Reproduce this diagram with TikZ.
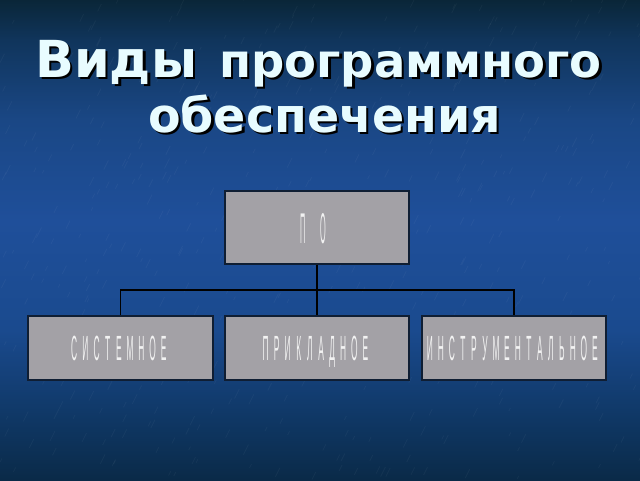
\documentclass[tikz,border=0pt]{standalone}
\usepackage{fontspec}
\usepackage{graphicx}
\newfontfamily\titlefont{DejaVu Sans}
\newfontfamily\boxfont{Liberation Sans}
\definecolor{bgA}{HTML}{0A2638}
\definecolor{bgB}{HTML}{10355C}
\definecolor{bgC}{HTML}{1A4785}
\definecolor{bgD}{HTML}{1F4F9A}
\definecolor{bgE}{HTML}{1A4A8E}
\definecolor{bgF}{HTML}{0F3764}
\definecolor{bgG}{HTML}{0A2A48}
\definecolor{boxfill}{HTML}{A3A1A6}
\definecolor{boxline}{HTML}{0F1E33}
\definecolor{titlecol}{HTML}{E8FCFF}
\definecolor{lettercol}{HTML}{F2F2F2}
\pgfdeclareverticalshading{slidebg}{100bp}{%
  color(0bp)=(bgG); color(25bp)=(bgG); color(31.25bp)=(bgF); color(40.6bp)=(bgE);
  color(52bp)=(bgD); color(62.5bp)=(bgC); color(70.8bp)=(bgB); color(75bp)=(bgA); color(100bp)=(bgA)}
\newcommand\spacedletters[3]{\foreach \ch in {#3}{\makebox[#1]{\scalebox{#2}[1]{\ch}}}}
\newcommand\shadowtext[1]{\makebox[0pt][l]{\hspace{2.5pt}\raisebox{-2.5pt}{\color{black}#1}}#1}
\begin{document}
\begin{tikzpicture}[x=1pt,y=-1pt,
  box/.style={draw=boxline, line width=1.2pt, fill=boxfill, inner sep=0pt, text=lettercol, text depth=0pt},
  conn/.style={draw=black, line width=1.4pt},
  texture/.style={draw=white, opacity=0.04, line width=0.8pt},
  titletext/.style={inner sep=0pt, anchor=base west, text=titlecol, font=\titlefont\bfseries}]
\useasboundingbox (0,0) rectangle (640,480);
\shade[shading=slidebg] (0,0) rectangle (640,480);
\pgfmathsetseed{7}
\foreach \i in {1,...,500}{
  \pgfmathsetmacro\xx{rnd*640}
  \pgfmathsetmacro\yy{rnd*480}
  \pgfmathsetmacro\ll{3+rnd*7}
  \draw[texture] (\xx,\yy) -- ++(0.5*\ll,-\ll);
}
% title
\node[titletext] (t1) at (35,77) {\fontsize{51}{51}\selectfont\shadowtext{Виды}};
\node[titletext] (t2) at (219,77) {\fontsize{46.5}{46.5}\selectfont\shadowtext{программного}};
\node[titletext] (t3) at (148,132) {\fontsize{47.5}{47.5}\selectfont\shadowtext{обеспечения}};
% boxes
\node[box, text height=31pt, minimum width=184pt, minimum height=73pt] (po) at (317,227.5)
  {\boxfont\fontsize{43}{43}\selectfont\hspace{-8pt}\spacedletters{20pt}{0.17}{П,О}};
\node[box, text height=25pt, minimum width=185pt, minimum height=64pt] (sys) at (120.5,348)
  {\boxfont\fontsize{35}{35}\selectfont\hspace{-3pt}\spacedletters{11.2pt}{0.24}{С,И,С,Т,Е,М,Н,О,Е}};
\node[box, text height=25pt, minimum width=184pt, minimum height=64pt] (app) at (317,348)
  {\boxfont\fontsize{35}{35}\selectfont\hspace{-3pt}\spacedletters{11.1pt}{0.24}{П,Р,И,К,Л,А,Д,Н,О,Е}};
\node[box, text height=25pt, minimum width=184pt, minimum height=64pt] (ins) at (514,348)
  {\boxfont\fontsize{35}{35}\selectfont\hspace{-3pt}\spacedletters{11pt}{0.24}{И,Н,С,Т,Р,У,М,Е,Н,Т,А,Л,Ь,Н,О,Е}};
% connectors
\coordinate (hub) at (317,290);
\draw[conn] (po.south) -- (hub);
\draw[conn] (hub) -| (sys.north);
\draw[conn] (hub) -| (ins.north);
\draw[conn] (hub) -- (app.north);
\end{tikzpicture}
\end{document}
